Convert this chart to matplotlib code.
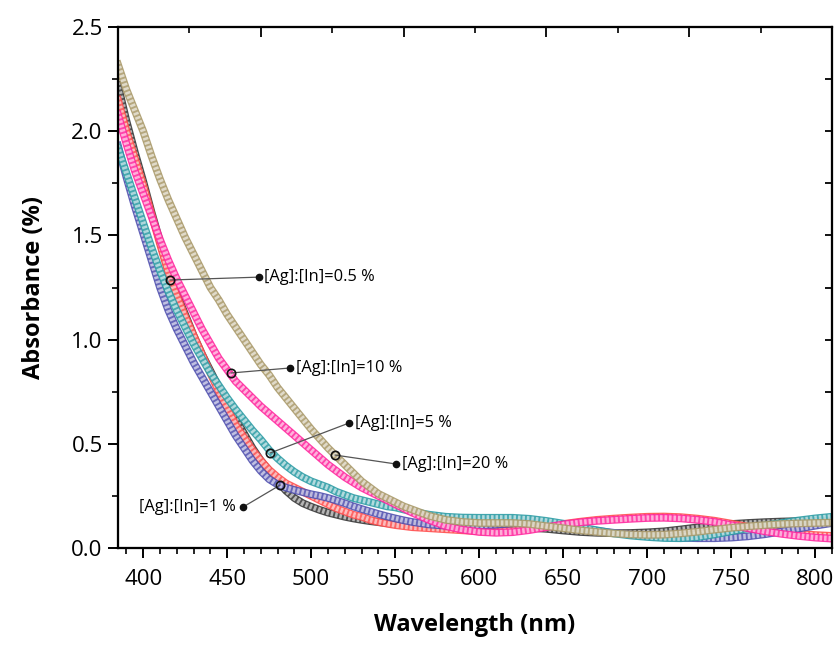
import matplotlib
matplotlib.use("Agg")
import matplotlib.pyplot as plt
import matplotlib.patheffects as pe
from matplotlib.ticker import MultipleLocator, NullFormatter

plt.rcParams['font.family'] = ['Open Sans', 'DejaVu Sans']

wavelength = [385, 390, 395, 400, 405, 410, 415, 420, 425, 430, 435, 440, 445, 450,
              455, 460, 465, 470, 475, 480, 485, 490, 495, 500, 505, 510, 515, 520,
              525, 530, 535, 540, 545, 550, 555, 560,
              570, 580, 590, 600, 610, 620, 630, 640, 650, 660, 670, 680, 690, 700,
              710, 720, 730, 740, 750, 760, 770, 780, 790, 800, 810]

black = [2.22, 2.05, 1.90, 1.76, 1.61, 1.47, 1.33, 1.22, 1.12, 1.02, 0.93, 0.85, 0.77, 0.69,
         0.62, 0.55, 0.48, 0.42, 0.37, 0.32, 0.275, 0.24, 0.215, 0.198, 0.183, 0.17, 0.16, 0.15,
         0.142, 0.135, 0.129, 0.124, 0.119, 0.115, 0.112, 0.109,
         0.104, 0.10, 0.096, 0.093, 0.092, 0.094, 0.097, 0.092, 0.084, 0.077, 0.073, 0.071, 0.072, 0.075,
         0.08, 0.089, 0.099, 0.108, 0.115, 0.12, 0.124, 0.127, 0.129, 0.13, 0.131]

red = [2.15, 2.00, 1.87, 1.74, 1.60, 1.46, 1.32, 1.21, 1.11, 1.02, 0.93, 0.84, 0.75, 0.67,
       0.59, 0.53, 0.47, 0.42, 0.375, 0.34, 0.31, 0.29, 0.27, 0.25, 0.23, 0.21, 0.19, 0.175,
       0.16, 0.15, 0.135, 0.125, 0.117, 0.11, 0.105, 0.10,
       0.095, 0.09, 0.085, 0.08, 0.08, 0.085, 0.092, 0.103, 0.115, 0.126, 0.135, 0.141, 0.146, 0.15,
       0.151, 0.148, 0.141, 0.131, 0.117, 0.102, 0.088, 0.077, 0.068, 0.062, 0.058]

blue = [1.93, 1.78, 1.64, 1.51, 1.38, 1.25, 1.14, 1.05, 0.97, 0.89, 0.82, 0.75, 0.68, 0.61,
        0.54, 0.48, 0.42, 0.37, 0.33, 0.305, 0.29, 0.278, 0.268, 0.258, 0.25, 0.24, 0.228, 0.215,
        0.20, 0.187, 0.175, 0.163, 0.152, 0.142, 0.133, 0.125,
        0.113, 0.107, 0.105, 0.107, 0.112, 0.118, 0.12, 0.115, 0.105, 0.094, 0.083, 0.073, 0.064, 0.057,
        0.052, 0.049, 0.047, 0.047, 0.05, 0.056, 0.066, 0.079, 0.093, 0.107, 0.12]

teal = [1.92, 1.80, 1.68, 1.56, 1.44, 1.33, 1.23, 1.14, 1.06, 0.98, 0.91, 0.84, 0.78, 0.72,
        0.665, 0.615, 0.565, 0.52, 0.47, 0.43, 0.395, 0.365, 0.34, 0.32, 0.305, 0.29, 0.27, 0.255,
        0.24, 0.23, 0.22, 0.21, 0.20, 0.195, 0.185, 0.175,
        0.16, 0.15, 0.146, 0.145, 0.145, 0.145, 0.14, 0.13, 0.117, 0.10, 0.085, 0.07, 0.06, 0.053,
        0.048, 0.047, 0.052, 0.065, 0.08, 0.095, 0.108, 0.12, 0.132, 0.142, 0.15]

magenta = [2.08, 1.94, 1.81, 1.70, 1.59, 1.48, 1.38, 1.29, 1.21, 1.13, 1.05, 0.98, 0.91, 0.855,
           0.80, 0.76, 0.72, 0.68, 0.645, 0.61, 0.575, 0.54, 0.505, 0.47, 0.435, 0.40, 0.37, 0.34,
           0.315, 0.29, 0.27, 0.25, 0.23, 0.21, 0.19, 0.17,
           0.135, 0.105, 0.088, 0.077, 0.073, 0.076, 0.086, 0.10, 0.113, 0.123, 0.13, 0.135, 0.14, 0.144,
           0.145, 0.142, 0.135, 0.125, 0.11, 0.095, 0.08, 0.068, 0.058, 0.05, 0.045]

khaki = [2.32, 2.20, 2.10, 2.00, 1.88, 1.77, 1.67, 1.58, 1.49, 1.41, 1.33, 1.25, 1.19, 1.12,
         1.06, 1.00, 0.94, 0.88, 0.83, 0.77, 0.72, 0.67, 0.62, 0.57, 0.525, 0.48, 0.44, 0.40,
         0.36, 0.32, 0.29, 0.26, 0.24, 0.22, 0.20, 0.185,
         0.155, 0.135, 0.125, 0.12, 0.12, 0.12, 0.115, 0.105, 0.095, 0.085, 0.077, 0.07, 0.065, 0.063,
         0.064, 0.07, 0.078, 0.088, 0.097, 0.104, 0.11, 0.115, 0.118, 0.12, 0.122]

series_values = [black, red, blue, teal, magenta, khaki]
series_colors = ['#3a3a3a', '#ff5050', '#5252b0', '#2f9ea6', '#ff2aa0', '#ab9b6c']

callout_labels = ['[Ag]:[In]=0.5 %', '[Ag]:[In]=10 %', '[Ag]:[In]=5 %',
                  '[Ag]:[In]=20 %', '[Ag]:[In]=1 %']
callout_point_x = [416.0, 452.4, 475.6, 514.3, 481.5]
callout_point_y = [1.286, 0.840, 0.456, 0.446, 0.302]
callout_dot_x = [469.0, 487.5, 522.6, 550.6, 459.5]
callout_dot_y = [1.300, 0.864, 0.600, 0.403, 0.197]
callout_side = ['right', 'right', 'right', 'right', 'left']

fig = plt.figure(figsize=(8.38, 6.52), dpi=100)
ax = fig.add_axes([0.1408, 0.1595, 0.852, 0.799])

for vals, col in zip(series_values, series_colors):
    # band imitating a chain of dense hollow markers
    ax.plot(wavelength, vals, color=col, lw=5.6, zorder=2,
            path_effects=[pe.Stroke(linewidth=5.6, foreground=col, alpha=0.9),
                          pe.Stroke(linewidth=3.8, foreground='white', alpha=0.6)])
    ax.plot(wavelength, vals, color=col, lw=4.6, alpha=0.8, solid_capstyle='butt',
            dashes=(0.3, 0.4), zorder=2)

for lab, px, py, dx, dy, side in zip(callout_labels, callout_point_x, callout_point_y,
                                     callout_dot_x, callout_dot_y, callout_side):
    ax.plot([px, dx], [py, dy], color='#555555', lw=0.9, zorder=5)
    ax.plot([px], [py], marker='o', markersize=6, markerfacecolor='none',
            markeredgecolor='#111111', markeredgewidth=1.2, zorder=6)
    ax.plot([dx], [dy], marker='o', markersize=4.5, color='#111111', zorder=6)
    if side == 'right':
        ax.text(dx + 3.2, dy, lab, fontsize=11.8, va='center', ha='left', zorder=7)
    else:
        ax.text(dx - 4.5, dy, lab, fontsize=11.8, va='center', ha='right', zorder=7)

ax.set_xlim(385, 810)
ax.set_ylim(0, 2.5)
ax.xaxis.set_major_locator(MultipleLocator(50))
ax.xaxis.set_minor_locator(MultipleLocator(10))
ax.yaxis.set_major_locator(MultipleLocator(0.5))
ax.yaxis.set_minor_locator(MultipleLocator(0.25))
ax.yaxis.set_major_formatter(matplotlib.ticker.FormatStrFormatter('%.1f'))
ax.tick_params(axis='both', which='major', direction='out', length=7, width=1.4,
               labelsize=16, pad=4)
ax.tick_params(axis='both', which='minor', direction='out', length=4.5, width=1.2)
ax.tick_params(axis='x', which='major', pad=8)
for s in ax.spines.values():
    s.set_linewidth(1.5)

ax.set_xlabel('Wavelength (nm)', fontsize=17, fontweight='bold', labelpad=17)
ax.set_ylabel('Absorbance (%)', fontsize=17, fontweight='bold', labelpad=18)

# secondary (unlabelled) top and right axes with inward ticks
axt = ax.twiny()
axt.set_xlim(0, 1)
axt.xaxis.set_major_locator(MultipleLocator(0.2))
axt.xaxis.set_minor_locator(MultipleLocator(0.1))
axt.xaxis.set_major_formatter(NullFormatter())
axt.tick_params(axis='x', which='major', direction='in', length=7, width=1.3)
axt.tick_params(axis='x', which='minor', direction='in', length=4, width=1.2)
axt.tick_params(axis='y', left=False, right=False, labelleft=False, labelright=False)
axr = ax.twinx()
axr.set_ylim(0, 1)
axr.yaxis.set_major_locator(MultipleLocator(0.1))
axr.yaxis.set_major_formatter(NullFormatter())
axr.tick_params(axis='y', which='major', direction='in', length=5, width=1.3)
for a in (axt, axr):
    for s in a.spines.values():
        s.set_linewidth(1.5)

fig.savefig('out.png', dpi=100)
